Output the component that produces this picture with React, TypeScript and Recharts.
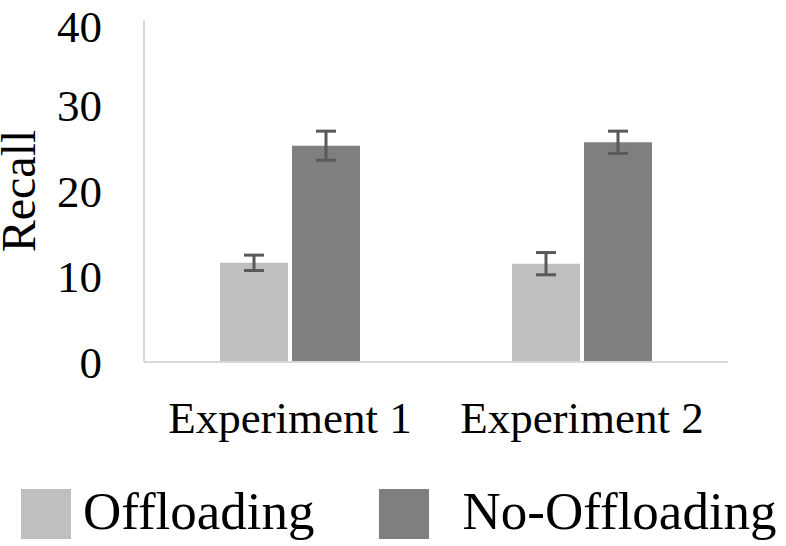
import { BarChart, Bar, XAxis, YAxis, ErrorBar, Legend } from 'recharts'

const experiments = ['Experiment 1', 'Experiment 2']
const seriesNames = ['Offloading', 'No-Offloading']
const offloading = [11.6, 11.5]
const offloadingErr = [0.9, 1.3]
const noOffloading = [25.3, 25.7]
const noOffloadingErr = [1.7, 1.3]
const yTicks = [0, 10, 20, 30, 40]

const FONT = 'Liberation Serif, Tinos, DejaVu Serif, serif'
const AXIS_GREY = '#d9d9d9'

const chartData = experiments.map((name, i) => ({
  name,
  Offloading: offloading[i],
  offErr: offloadingErr[i],
  'No-Offloading': noOffloading[i],
  noOffErr: noOffloadingErr[i],
}))

// legend swatches + labels laid out like the original figure
function LegendContent({ payload }: any) {
  if (!payload) return null
  const items = seriesNames.map(n => payload.find((p: any) => p.value === n)).filter(Boolean)
  return (
    <div style={{ display: 'flex', alignItems: 'flex-start', fontFamily: FONT, fontSize: 53, color: '#000' }}>
      {items.map((entry: any, i: number) => (
        <div key={entry.value} style={{ display: 'flex', alignItems: 'flex-start', marginRight: i === 0 ? 64 : 0 }}>
          <div style={{ width: 50, height: 50, background: entry.color }} />
          <span style={{ marginLeft: i === 0 ? 12 : 34, lineHeight: '50px', marginTop: -3 }}>{entry.value}</span>
        </div>
      ))}
    </div>
  )
}

function RecallLabel({ viewBox }: any) {
  const cx = viewBox.x + 35
  const cy = viewBox.y + viewBox.height / 2
  return (
    <text
      x={cx}
      y={cy}
      transform={`rotate(-90, ${cx}, ${cy})`}
      textAnchor="middle"
      fontFamily={FONT}
      fontSize={48}
      fill="#000"
    >
      Recall
    </text>
  )
}

export default function App() {
  return (
    <div style={{ position: 'absolute', left: 0, top: 0, background: '#fff' }}>
      <BarChart
        width={786}
        height={546}
        data={chartData}
        margin={{ top: 20, right: 58, bottom: 124, left: 0 }}
        barGap={4}
        barCategoryGap={76}
      >
        <XAxis
          dataKey="name"
          height={60}
          tickLine={false}
          tickSize={0}
          tickMargin={39}
          axisLine={{ stroke: AXIS_GREY, strokeWidth: 2 }}
          tick={{ fontFamily: FONT, fontSize: 45, fill: '#000' }}
        />
        <YAxis
          width={144}
          domain={[0, 40]}
          ticks={yTicks}
          tickLine={false}
          tickSize={0}
          tickMargin={42}
          axisLine={{ stroke: AXIS_GREY, strokeWidth: 2 }}
          tick={{ fontFamily: FONT, fontSize: 45, fill: '#000' }}
          label={{ content: <RecallLabel /> }}
        />
        <Legend
          layout="horizontal"
          verticalAlign="middle"
          align="center"
          content={<LegendContent />}
          wrapperStyle={{ left: 21, top: 489, width: 765 }}
        />
        <Bar dataKey="Offloading" fill="#bfbfbf" isAnimationActive={false}>
          <ErrorBar dataKey="offErr" width={10} stroke="#595959" strokeWidth={3} isAnimationActive={false} />
        </Bar>
        <Bar dataKey="No-Offloading" fill="#7f7f7f" isAnimationActive={false}>
          <ErrorBar dataKey="noOffErr" width={10} stroke="#595959" strokeWidth={3} isAnimationActive={false} />
        </Bar>
      </BarChart>
    </div>
  )
}
